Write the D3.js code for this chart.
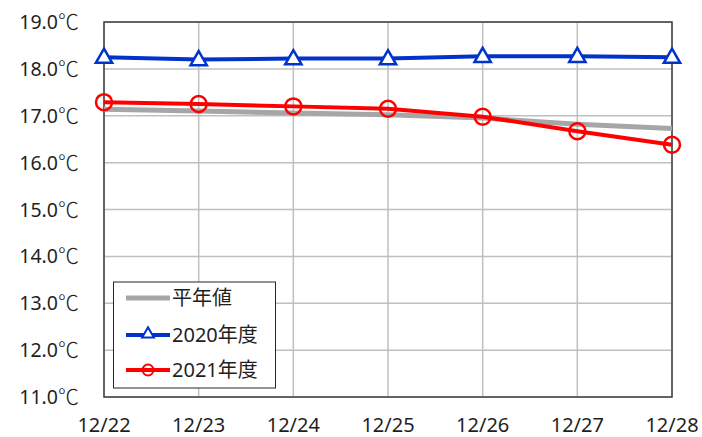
<!DOCTYPE html>
<html>
<head>
<meta charset="utf-8">
<script src="https://cdn.jsdelivr.net/npm/d3@7"></script>
<style>
  body { margin: 0; background: #fff; }
  text { font-family: "Noto Sans", "Noto Sans CJK JP", sans-serif; fill: #1f1f1f; }
  .deg { font-family: "Noto Sans CJK JP", sans-serif; font-weight: 300; }
</style>
</head>
<body>
<svg id="chart" width="702" height="437"></svg>
<script>
// dates on the x axis
const dates = ['12/22', '12/23', '12/24', '12/25', '12/26', '12/27', '12/28'];
// temperatures
const normal = [17.14, 17.10, 17.06, 17.02, 16.95, 16.82, 16.73];
const y2020 = [18.25, 18.20, 18.22, 18.22, 18.27, 18.27, 18.25];
const y2021 = [17.29, 17.25, 17.20, 17.15, 16.98, 16.67, 16.38];
const yTicks = [11, 12, 13, 14, 15, 16, 17, 18, 19];
const legendNames = ['平年値', '2020年度', '2021年度'];

const svg = d3.select('#chart');
const plotLeft = 104, plotRight = 672, plotTop = 22, plotBottom = 397;

const x = d3.scalePoint().domain(dates).range([plotLeft, plotRight]);
const y = d3.scaleLinear().domain([11, 19]).range([plotBottom, plotTop]);

// grid lines
svg.append('g').selectAll('line')
  .data(yTicks)
  .enter().append('line')
  .attr('x1', plotLeft).attr('x2', plotRight)
  .attr('y1', d => y(d)).attr('y2', d => y(d))
  .attr('stroke', '#bfbfbf').attr('stroke-width', 1.5);

svg.append('g').selectAll('line')
  .data(dates)
  .enter().append('line')
  .attr('x1', d => x(d)).attr('x2', d => x(d))
  .attr('y1', plotTop).attr('y2', plotBottom)
  .attr('stroke', '#bfbfbf').attr('stroke-width', 1.5);

// frame
svg.append('rect')
  .attr('x', plotLeft).attr('y', plotTop)
  .attr('width', plotRight - plotLeft).attr('height', plotBottom - plotTop)
  .attr('fill', 'none').attr('stroke', '#404040').attr('stroke-width', 1.5);

// y labels, number plus a wider degree sign
const yLabels = svg.append('g').selectAll('text')
  .data(yTicks)
  .enter().append('text')
  .attr('x', 79).attr('y', d => y(d) + 7)
  .attr('text-anchor', 'end')
  .attr('font-size', 19.5);
yLabels.append('tspan').text(d => d.toFixed(1));
yLabels.append('tspan').attr('class', 'deg').attr('font-size', 21).text('℃');

// x labels
svg.append('g').selectAll('text')
  .data(dates)
  .enter().append('text')
  .attr('x', d => x(d)).attr('y', 432)
  .attr('text-anchor', 'middle')
  .attr('font-size', 20)
  .text(d => d);

const line = d3.line()
  .x((d, i) => x(dates[i]))
  .y(d => y(d));

const triangle = d3.symbol().type(d3.symbolTriangle).size(115);

function drawSeries(values, color, width, marker) {
  svg.append('path')
    .datum(values)
    .attr('d', line)
    .attr('fill', 'none')
    .attr('stroke', color)
    .attr('stroke-width', width)
    .attr('stroke-linejoin', 'round');

  if (marker === 'triangle') {
    svg.append('g').selectAll('path')
      .data(values)
      .enter().append('path')
      .attr('d', triangle)
      .attr('transform', (d, i) => 'translate(' + x(dates[i]) + ',' + (y(d) + 1) + ')')
      .attr('fill', '#fff')
      .attr('stroke', color)
      .attr('stroke-width', 2.5);
  } else if (marker === 'circle') {
    svg.append('g').selectAll('circle')
      .data(values)
      .enter().append('circle')
      .attr('cx', (d, i) => x(dates[i]))
      .attr('cy', d => y(d))
      .attr('r', 8)
      .attr('fill', 'none')
      .attr('stroke', color)
      .attr('stroke-width', 2.5);
  }
}

drawSeries(normal, '#a6a6a6', 5, null);
drawSeries(y2020, '#0033cc', 4, 'triangle');
drawSeries(y2021, '#ff0000', 4, 'circle');

// legend
const legend = svg.append('g');
legend.append('rect')
  .attr('x', 113.5).attr('y', 282)
  .attr('width', 162).attr('height', 106)
  .attr('fill', '#fff').attr('stroke', '#262626').attr('stroke-width', 1);

const legendColors = ['#a6a6a6', '#0033cc', '#ff0000'];
const legendMarkers = [null, 'triangle', 'circle'];
const legendY = [298, 335, 370];

legendNames.forEach((name, i) => {
  const ly = legendY[i];
  legend.append('line')
    .attr('x1', 126).attr('x2', 170)
    .attr('y1', ly).attr('y2', ly)
    .attr('stroke', legendColors[i])
    .attr('stroke-width', i === 0 ? 5 : 4);
  if (legendMarkers[i] === 'triangle') {
    legend.append('path')
      .attr('d', d3.symbol().type(d3.symbolTriangle).size(60))
      .attr('transform', 'translate(148,' + (ly - 1) + ')')
      .attr('fill', '#fff').attr('stroke', legendColors[i]).attr('stroke-width', 2);
  } else if (legendMarkers[i] === 'circle') {
    legend.append('circle')
      .attr('cx', 148).attr('cy', ly).attr('r', 5.5)
      .attr('fill', 'none').attr('stroke', legendColors[i]).attr('stroke-width', 2);
  }
  legend.append('text')
    .attr('x', 172).attr('y', ly + 7)
    .attr('font-size', 20)
    .text(name);
});
</script>
</body>
</html>
